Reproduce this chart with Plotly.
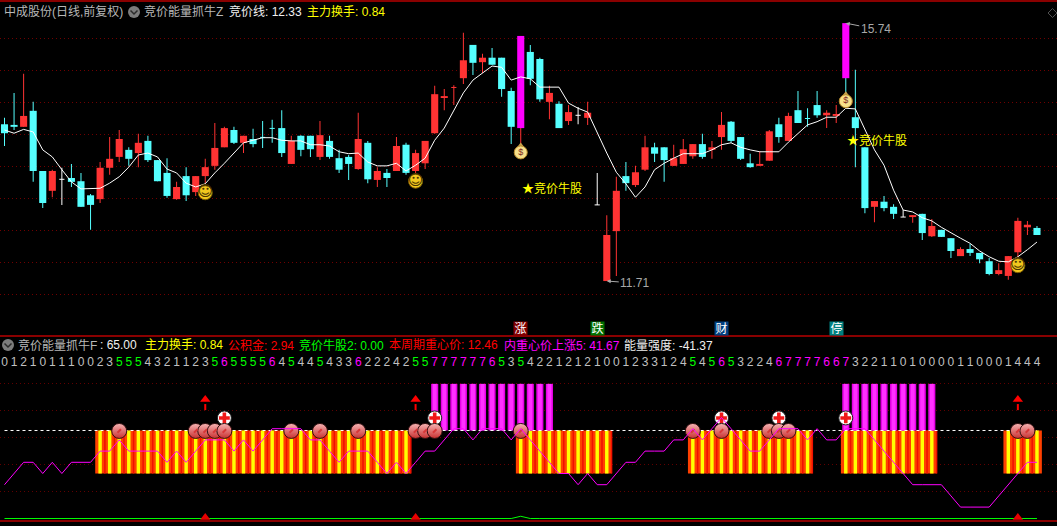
import plotly.graph_objects as go

# ---------- main panel data (prices) ----------
OPEN = [14.16,14.15,14.12,14.37,13.43,13.12,13.30,13.32,13.27,13.05,12.99,13.48,13.65,13.76,13.71,13.90,13.60,13.40,12.99,13.35,
        13.10,13.35,13.51,13.80,14.07,13.87,13.93,13.96,14.10,14.10,13.54,13.98,13.98,13.65,13.90,13.63,13.65,13.46,13.87,13.29,
        13.40,13.43,13.84,13.43,13.55,14.02,14.57,14.73,14.88,15.40,15.13,15.20,15.20,14.68,14.10,15.29,15.18,14.51,14.48,14.21,
        14.30,14.26,12.90,11.71,12.49,13.35,13.21,13.45,13.80,13.80,13.51,13.54,13.66,13.85,13.76,13.96,14.20,13.96,13.55,13.51,
        13.59,14.16,13.90,14.38,14.26,14.46,14.30,14.29,15.74,14.27,13.80,12.87,12.95,12.87,12.71,12.71,12.76,12.41,12.51,12.38,
        12.10,12.21,12.15,12.02,11.82,11.79,12.16,12.55,12.54]
CLOSE = [14.02,14.12,14.29,13.43,12.93,13.43,13.30,13.26,12.87,12.90,13.48,13.62,13.93,13.62,13.87,13.60,13.27,13.04,13.18,13.05,
         13.35,13.49,13.79,14.10,13.87,13.98,13.85,13.95,14.09,13.71,13.90,13.76,13.77,13.99,13.65,13.45,13.54,13.93,13.30,13.43,
         13.32,13.82,13.40,13.71,13.90,14.63,14.60,14.74,15.16,15.12,15.20,15.09,14.71,14.12,15.54,14.87,14.55,14.65,14.10,14.35,
         14.30,14.34,12.90,12.43,13.12,13.24,13.41,13.80,13.70,13.60,13.63,13.77,13.85,13.65,13.80,14.15,13.90,13.62,13.49,13.54,
         14.05,13.96,14.29,14.18,14.24,14.30,14.34,14.32,14.88,14.10,12.85,12.96,12.85,12.76,12.71,12.74,12.46,12.57,12.40,12.18,
         12.21,12.15,12.05,11.82,11.88,12.10,12.65,12.59,12.43]
HIGH = [14.26,14.65,14.95,14.51,13.43,13.45,13.48,13.54,13.40,13.07,13.57,13.96,14.07,13.80,14.01,13.98,13.60,13.63,13.26,13.49,
        13.35,13.62,14.18,14.12,14.12,13.98,14.09,14.21,14.23,14.38,13.98,13.99,13.98,14.21,13.98,13.76,13.68,14.34,13.90,13.49,
        13.46,13.96,13.87,13.76,13.90,14.76,14.71,14.77,15.59,15.40,15.26,15.35,15.20,14.73,15.54,15.40,15.20,14.76,14.52,14.46,
        14.43,14.51,13.40,12.74,13.34,13.57,13.51,13.98,13.87,13.80,13.84,13.93,13.85,14.01,13.90,14.35,14.21,13.96,13.70,13.74,
        14.07,14.26,14.34,14.68,14.41,14.68,14.38,14.46,15.74,15.01,13.80,12.96,13.04,12.91,12.82,12.74,12.76,12.68,12.51,12.38,
        12.24,12.29,12.15,12.07,11.99,12.10,12.70,12.65,12.57]
LOW = [13.82,14.07,14.12,13.26,12.85,13.02,12.90,13.18,12.87,12.51,12.93,13.37,13.57,13.51,13.49,13.57,13.27,13.01,12.98,12.96,
       13.04,13.24,13.45,13.80,13.85,13.71,13.80,13.79,13.87,13.65,13.54,13.66,13.65,13.60,13.62,13.40,13.29,13.45,13.24,13.18,
       13.18,13.43,13.37,13.38,13.46,14.01,14.38,14.46,14.79,14.93,14.96,15.09,14.59,13.85,13.85,14.77,14.51,14.24,14.10,14.15,
       14.16,14.15,12.90,11.71,11.79,13.12,13.18,13.43,13.57,13.26,13.51,13.54,13.62,13.62,13.62,13.76,13.87,13.60,13.48,13.51,
       13.59,13.87,13.90,14.18,14.12,14.26,14.10,14.18,14.54,13.49,12.77,12.63,12.80,12.68,12.71,12.62,12.35,12.40,12.40,12.07,
       12.10,12.10,11.99,11.80,11.80,11.73,12.09,12.43,12.43]
AUCTION_LINE = [14.07,14.02,14.08,14.04,13.76,13.65,13.45,13.26,13.15,13.15,13.16,13.24,13.34,13.49,13.68,13.71,13.65,13.46,13.40,13.24,
                13.18,13.23,13.40,13.55,13.71,13.87,13.91,13.95,13.95,13.91,13.90,13.90,13.84,13.84,13.82,13.73,13.70,13.71,13.57,13.51,
                13.51,13.55,13.43,13.52,13.63,13.91,14.10,14.38,14.65,14.85,14.96,15.07,15.05,14.85,14.90,14.87,14.74,14.74,14.74,14.49,
                14.41,14.35,14.02,13.71,13.41,13.23,13.02,13.18,13.45,13.55,13.63,13.70,13.70,13.70,13.76,13.84,13.87,13.80,13.76,13.73,
                13.73,13.73,13.88,14.02,14.15,14.20,14.27,14.27,14.41,14.40,14.07,13.76,13.52,13.13,12.82,12.79,12.70,12.65,12.55,12.46,
                12.38,12.30,12.18,12.09,12.02,12.01,12.09,12.20,12.32]
MAGENTA_CANDLES = [54, 88]
WHITE_CANDLES = [6, 60, 62, 94]
PRICE_GRID = [15.5, 15.0, 14.5, 14.0, 13.5, 13.0, 12.5, 12.0, 11.5]
SMILE_IDX = [21, 43, 106]
SMILE_PRICE = [13.09, 13.27, 11.95]
BAG_IDX = [54, 88]
BAG_PRICE = [13.72, 14.52]
STAR_IDX = [54, 88]
STAR_PRICE = [13.16, 13.91]
STAR_TEXT = "★竞价牛股"

# ---------- indicator panel data ----------
ENERGY = [55,60,65,65,60,65,60,65,65,65,70,70,75,70,70,70,70,65,70,65,70,75,75,75,70,75,70,75,80,80,80,80,75,75,70,65,70,70,70,65,
          60,65,60,65,70,70,75,80,80,75,80,80,80,75,80,75,70,65,60,60,55,60,55,55,60,65,65,70,70,70,75,75,80,75,80,85,80,75,70,70,
          75,80,80,80,75,80,75,75,80,80,80,75,70,65,60,55,55,55,55,50,45,45,45,45,50,55,60,65,65]
DIGITS = [0,1,2,1,0,1,1,1,0,0,2,3,5,5,5,4,3,2,1,1,2,3,5,6,5,5,5,5,6,4,5,4,4,5,4,3,3,
          6,2,2,2,4,2,5,5,7,7,7,7,7,7,6,5,3,5,4,2,2,1,2,1,2,1,0,0,1,2,3,3,1,2,4,5,
          4,5,6,5,3,2,2,4,6,7,7,7,7,6,6,7,3,2,2,1,1,0,1,0,0,0,0,1,1,0,0,0,1,4,4,4]
ZONES = [(10,19),(20,42),(54,63),(72,84),(88,97),(105,108)]
PURPLE_ZONES = [(45,57),(88,97)]
BALL_IDX = [12,20,21,22,23,30,33,37,43,44,45,54,72,75,80,81,82,106,107]
PLUS_IDX = [23,45,75,81,88]
UP_ARROW_IDX = [21,43,106]
SIGNAL_LINE = [39.9]*109
SIGNAL_LINE[54] = 40.9
STRIPE_LOW, STRIPE_HIGH, PURPLE_HIGH = 60, 79.2, 100
DIG_LEVEL, BALL_LEVEL, PLUS_LEVEL = 109.3, 79, 84.8
ENERGY_GRID = [100, 88, 76, 64, 52]
TAGS = [(54,"涨","#800000"),(62,"跌","#007000"),(75,"财","#004080"),(87,"停","#008080")]

# header texts: (left pixel, text, colour)
HEAD1 = [(3,"中成股份(日线,前复权)","#B8B8B8"),(143,"竞价能量抓牛Z","#B8B8B8"),
         (228,"竞价线: 12.33","#F0F0F0"),(306,"主力换手: 0.84","#FFFF00")]
HEAD2 = [(17,"竞价能量抓牛F","#B8B8B8"),(99,": 65.00","#F0F0F0"),(144,"主力换手: 0.84","#FFFF00"),
         (227,"公积金: 2.94","#FF0000"),(298,"竞价牛股2: 0.00","#00FF00"),(388,"本周期重心价: 12.46","#FF0000"),
         (503,"内重心价上涨5: 41.67","#FF00FF"),(623,"能量强度: -41.37","#F0F0F0")]

W, H = 1057, 526
FONT = "Liberation Sans, Noto Sans CJK SC, sans-serif"
RED, CYAN, MAG, WHITE = "#FF3333", "#55FFFF", "#FF00FF", "#FFFFFF"
n = len(OPEN)
X = list(range(n))
STEP = 9.56
fig = go.Figure()

def crisp(hexcol):
    # a colour that is not fully opaque makes the library round bars to whole pixels
    r, g, b = int(hexcol[1:3],16), int(hexcol[3:5],16), int(hexcol[5:7],16)
    return f"rgba({r},{g},{b},0.999)"

def color_of(i):
    if i in WHITE_CANDLES:
        return WHITE
    return RED if CLOSE[i] > OPEN[i] else CYAN

BW, WK = 0.74, 0.105
for col in (RED, CYAN, WHITE):
    idx = [i for i in X if color_of(i) == col]
    fig.add_bar(x=idx, base=[LOW[i] for i in idx], y=[HIGH[i]-LOW[i] for i in idx], width=WK,
                marker=dict(color=crisp(col), line=dict(width=0)), yaxis="y")
for col in (RED, CYAN, MAG):
    idx = [i for i in X if abs(OPEN[i]-CLOSE[i]) >= 0.025 and
           ((i in MAGENTA_CANDLES and col == MAG) or (i not in MAGENTA_CANDLES and color_of(i) == col))]
    fig.add_bar(x=idx, base=[min(OPEN[i],CLOSE[i]) for i in idx], y=[abs(OPEN[i]-CLOSE[i]) for i in idx], width=BW,
                marker=dict(color=crisp(col), line=dict(width=0)), yaxis="y")
for col in (RED, CYAN, WHITE):
    idx = [i for i in X if abs(OPEN[i]-CLOSE[i]) < 0.025 and color_of(i) == col]
    fig.add_scatter(x=idx, y=[(OPEN[i]+CLOSE[i])/2 for i in idx], mode="markers", yaxis="y",
                    marker=dict(symbol="line-ew", size=3.7, line=dict(color=col, width=1)))
fig.add_scatter(x=X, y=AUCTION_LINE, mode="lines", line=dict(color=WHITE, width=1), yaxis="y")

# smileys + money bags
fig.add_scatter(x=SMILE_IDX, y=SMILE_PRICE, mode="markers+text", yaxis="y", text=["☺"]*3,
                textposition="middle center", textfont=dict(family="DejaVu Sans", size=15, color="#4A3500"),
                marker=dict(size=14, color="#F2C81E", line=dict(color="#7A5B00", width=1)))
fig.add_scatter(x=BAG_IDX, y=[p+0.1 for p in BAG_PRICE], mode="markers", yaxis="y",
                marker=dict(symbol="triangle-up", size=7, color="#C9A24A"))
fig.add_scatter(x=BAG_IDX, y=BAG_PRICE, mode="markers+text", yaxis="y", text=["$"]*2,
                textposition="middle center", textfont=dict(family="Liberation Sans", size=9, color="#7A1F1F"),
                marker=dict(size=13, color="#F7E08A", line=dict(color="#B88A2A", width=1)))

# ---------- indicator panel ----------
fig.add_scatter(x=[0,108], y=[STRIPE_HIGH]*2, mode="lines", yaxis="y2",
                line=dict(color="white", width=1, dash="3px,3px"))
stripe = [i for a,b in ZONES for i in range(a,b+1)]
purple = [i for a,b in PURPLE_ZONES for i in range(a,b+1)]
h = STRIPE_HIGH-STRIPE_LOW
fig.add_bar(x=stripe, base=[STRIPE_LOW]*len(stripe), y=[h]*len(stripe), width=1.02, yaxis="y2",
            marker=dict(color=crisp("#FF4000"), line=dict(width=0)))
fig.add_bar(x=[i+0.5 for i in stripe[:-1]], base=[STRIPE_LOW]*(len(stripe)-1), y=[h]*(len(stripe)-1), width=0.16, yaxis="y2",
            marker=dict(color=crisp("#F01000"), line=dict(width=0)))
fig.add_bar(x=stripe, base=[STRIPE_LOW]*len(stripe), y=[h]*len(stripe), width=0.36, yaxis="y2",
            marker=dict(color=crisp("#FFFF00"), line=dict(width=0)))
fig.add_bar(x=purple, base=[STRIPE_HIGH]*len(purple), y=[PURPLE_HIGH-STRIPE_HIGH]*len(purple), width=0.74, yaxis="y2",
            marker=dict(color=crisp("#E800E8"), line=dict(width=0)))
fig.add_bar(x=purple, base=[STRIPE_HIGH]*len(purple), y=[PURPLE_HIGH-STRIPE_HIGH]*len(purple), width=0.42, yaxis="y2",
            marker=dict(color=crisp("#FF30FF"), line=dict(width=0)))
# up arrows
ax_, ay_ = [], []
for i in UP_ARROW_IDX:
    ax_ += [i, i, None]; ay_ += [88.3, 91, None]
fig.add_scatter(x=ax_, y=ay_, mode="lines", yaxis="y2", line=dict(color="#FF0000", width=2))
fig.add_scatter(x=UP_ARROW_IDX, y=[93]*3, mode="markers", yaxis="y2",
                marker=dict(symbol="triangle-up", size=9, color="#FF0000", line=dict(width=0)))
# plus badges
fig.add_scatter(x=PLUS_IDX, y=[PLUS_LEVEL]*len(PLUS_IDX), mode="markers", yaxis="y2",
                marker=dict(size=14, color="#FFFFFF", line=dict(color="#222222", width=1)))
fig.add_scatter(x=PLUS_IDX, y=[PLUS_LEVEL]*len(PLUS_IDX), mode="markers", yaxis="y2",
                marker=dict(symbol="cross", size=9, color="#F01818", line=dict(width=0)))
# balls
fig.add_scatter(x=BALL_IDX, y=[BALL_LEVEL]*len(BALL_IDX), mode="markers", yaxis="y2",
                marker=dict(size=15, color="#F6B4B4", gradient=dict(type="vertical", color="#C83030"),
                            line=dict(color="#301010", width=1)))
fig.add_scatter(x=BALL_IDX, y=[BALL_LEVEL]*len(BALL_IDX), mode="markers", yaxis="y2",
                marker=dict(symbol="line-ne", size=3.5, line=dict(color="#D83838", width=2)))
fig.add_scatter(x=X, y=ENERGY, mode="lines", yaxis="y2", line=dict(color="#FF00FF", width=1))
fig.add_scatter(x=X, y=SIGNAL_LINE, mode="lines", yaxis="y2", line=dict(color="#00FF00", width=1))
fig.add_scatter(x=UP_ARROW_IDX, y=[40.4]*3, mode="markers", yaxis="y2",
                marker=dict(symbol="triangle-up", size=9, color="#E80000", line=dict(width=0)))
dig_col = ["#00FF00" if d == 5 else ("#FF00FF" if d >= 6 else "#C0C0C0") for d in DIGITS]
fig.add_scatter(x=X, y=[DIG_LEVEL]*n, mode="text", yaxis="y2", text=[str(d) for d in DIGITS],
                textposition="middle center", textfont=dict(family=FONT, size=12, color=dig_col))

# ---------- annotations ----------
anns = []
def head(x, y, s, c):
    anns.append(dict(xref="paper", yref="paper", x=x/W, y=1-y/H, text=s, showarrow=False, xanchor="left",
                     yanchor="middle", borderpad=0, font=dict(family=FONT, size=12, color=c)))
for x, s, c in HEAD1:
    head(x, 12, s, c)
for x, s, c in HEAD2:
    head(x, 345, s, c)
for i, p in zip(STAR_IDX, STAR_PRICE):
    anns.append(dict(x=i, y=p, yref="y", text=STAR_TEXT, showarrow=False, xanchor="left", yanchor="middle",
                     borderpad=0, font=dict(family=FONT, size=12, color="#FFFF00")))
for i, p, dx, dy in [(88, HIGH[88], 30, 6), (63, LOW[63], 28, 2)]:
    anns.append(dict(x=i, y=p, yref="y", text=f"{p:.2f}", showarrow=True, ax=dx, ay=dy, axref="pixel", ayref="pixel",
                     arrowcolor="#A8A8A8", arrowwidth=1, arrowhead=2, arrowsize=0.8,
                     font=dict(family=FONT, size=12, color="#A8A8A8")))
for i, s, c in TAGS:
    anns.append(dict(x=i, xref="x", yref="paper", y=1-328.5/H, text=s, showarrow=False, bgcolor=c, width=13, height=13,
                     borderpad=0, font=dict(family=FONT, size=12, color="white")))

def hline(y, w=1.6):
    return dict(type="line", xref="paper", yref="paper", x0=0, x1=1, y0=1-y/H, y1=1-y/H,
                line=dict(color="#B80000", width=w))
shapes = [hline(1), hline(336), hline(521)]
for cx, cy in [(134, 12), (8, 345)]:
    shapes.append(dict(type="circle", xref="paper", yref="paper", x0=(cx-6)/W, x1=(cx+6)/W, y0=1-(cy+6)/H, y1=1-(cy-6)/H,
                       fillcolor="#7C7C7C", line=dict(width=0)))
    shapes.append(dict(type="path", xref="paper", yref="paper",
                       path=f"M {(cx-3.5)/W} {1-(cy-1.5)/H} L {cx/W} {1-(cy+2)/H} L {(cx+3.5)/W} {1-(cy-1.5)/H}",
                       line=dict(color="#2A2A2A", width=1.5)))
shapes.append(dict(type="path", xref="paper", yref="paper",
                   path=f"M {1048/W} {1-13/H} L {1052.5/W} {1-8.5/H} L {1057/W} {1-13/H} L {1052.5/W} {1-17.5/H} Z",
                   line=dict(color="#505050", width=1)))

P0, PPX = 16.1016, 64.0
E0, EPX = 428.7, 2.24
fig.update_layout(
    width=W, height=H, autosize=False, margin=dict(l=0, r=0, t=0, b=0),
    paper_bgcolor="black", plot_bgcolor="black", showlegend=False, hovermode=False,
    barmode="overlay", annotations=anns, shapes=shapes,
    xaxis=dict(range=[-4.5/STEP, (W-4.5)/STEP], visible=True, showgrid=False, zeroline=False,
               showticklabels=False, ticks="", showline=False, fixedrange=True),
    yaxis=dict(range=[P0-H/PPX, P0], tickvals=PRICE_GRID, showticklabels=False, ticks="", zeroline=False,
               showline=False, gridcolor="#700000", griddash="1px,3px", gridwidth=1, fixedrange=True),
    yaxis2=dict(range=[80-(H-E0)/EPX, 80+E0/EPX], overlaying="y", tickvals=ENERGY_GRID, showticklabels=False,
                ticks="", zeroline=False, showline=False, gridcolor="#600000", griddash="1px,3px", gridwidth=1,
                fixedrange=True),
)
fig.write_html("out.html", config=dict(displayModeBar=False),
               post_script="document.body.style.margin='0';document.body.style.background='black';document.body.style.overflow='hidden';")
